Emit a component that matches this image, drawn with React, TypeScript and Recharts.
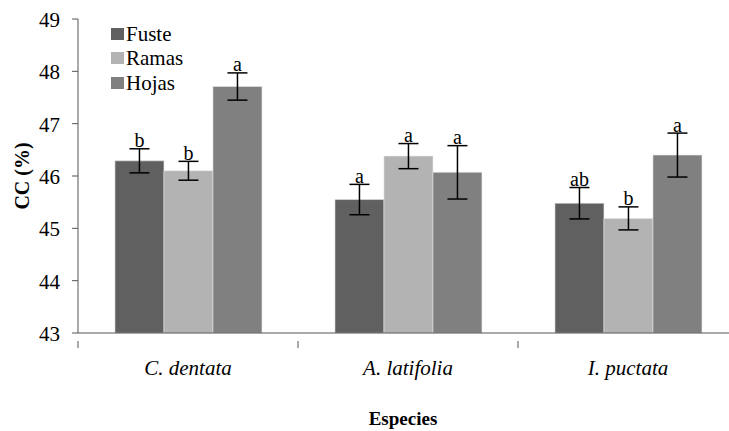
import React from 'react';
import { BarChart, Bar, XAxis, YAxis, ErrorBar, LabelList } from 'recharts';

const categories = ['C. dentata', 'A. latifolia', 'I. puctata'];

const fuste = [46.29, 45.55, 45.48];
const fusteErr = [0.23, 0.29, 0.3];
const fusteLetters = ['b', 'a', 'ab'];

const ramas = [46.1, 46.38, 45.19];
const ramasErr = [0.18, 0.24, 0.22];
const ramasLetters = ['b', 'a', 'b'];

const hojas = [47.71, 46.07, 46.4];
const hojasErr = [0.26, 0.51, 0.42];
const hojasLetters = ['a', 'a', 'a'];

const yTicks = [43, 44, 45, 46, 47, 48, 49];

const series = [
  { key: 'fuste', name: 'Fuste', color: '#606060', letters: fusteLetters, err: fusteErr, values: fuste },
  { key: 'ramas', name: 'Ramas', color: '#b3b3b3', letters: ramasLetters, err: ramasErr, values: ramas },
  { key: 'hojas', name: 'Hojas', color: '#808080', letters: hojasLetters, err: hojasErr, values: hojas },
];

const data = categories.map((c, i) => ({
  name: c,
  fuste: fuste[i],
  fusteErr: fusteErr[i],
  ramas: ramas[i],
  ramasErr: ramasErr[i],
  hojas: hojas[i],
  hojasErr: hojasErr[i],
}));

const FONT = "'Liberation Serif', 'Times New Roman', Times, serif";
const W = 740;
const H = 431;
const Y_MIN = 43;
const plotLeft = 78;
const plotRight = 738;
const band = (plotRight - plotLeft) / categories.length;

const XTick = (props: any) => {
  const { x, y, payload } = props;
  return (
    <g>
      <line x1={x - band / 2} y1={y} x2={x - band / 2} y2={y + 7} stroke="#555" />
      <text x={x} y={y + 34} textAnchor="middle" fontFamily={FONT} fontSize={21} fontStyle="italic" fill="#000">
        {payload.value}
      </text>
    </g>
  );
};

const YTick = (props: any) => {
  const { x, y, payload } = props;
  return (
    <text x={x} y={y} dy={8} textAnchor="end" fontFamily={FONT} fontSize={21} fill="#000">
      {payload.value}
    </text>
  );
};

const makeLetter = (letters: string[], errs: number[], value: number[]) => (props: any) => {
  const { x, y, width, height, index } = props;
  const ppu = height / (value[index] - Y_MIN);
  const top = y - errs[index] * ppu;
  return (
    <text x={x + width / 2} y={top - 1.5} textAnchor="middle" fontFamily={FONT} fontSize={20} fill="#000">
      {letters[index]}
    </text>
  );
};

export default function App() {
  return (
    <div style={{ position: 'absolute', left: 0, top: 0, width: 729, height: 431, overflow: 'hidden', background: '#fff', fontFamily: FONT }}>
      <BarChart
        width={W}
        height={H}
        data={data}
        margin={{ top: 19, right: W - plotRight, left: 0, bottom: H - 363 }}
        barCategoryGap="16.8%"
        barGap={0}
      >
        <XAxis
          dataKey="name"
          stroke="#555"
          tickLine={false}
          tick={<XTick />}
          interval={0}
          label={({ viewBox }: any) => (
            <text
              x={viewBox.x + viewBox.width / 2 - 5}
              y={425}
              textAnchor="middle"
              fontFamily={FONT}
              fontSize={19}
              fontWeight="bold"
              fill="#000"
            >
              Especies
            </text>
          )}
        />
        <YAxis
          width={plotLeft}
          domain={[43, 49]}
          ticks={yTicks}
          interval={0}
          stroke="#555"
          tickSize={6}
          tickMargin={12}
          tick={<YTick />}
          label={({ viewBox }: any) => (
            <text
              x={22}
              y={viewBox.y + viewBox.height / 2}
              transform={`rotate(-90, 22, ${viewBox.y + viewBox.height / 2})`}
              textAnchor="middle"
              dominantBaseline="central"
              fontFamily={FONT}
              fontSize={20}
              fontWeight="bold"
              fill="#000"
            >
              CC (%)
            </text>
          )}
        />
        {series.map((s) => (
          <Bar key={s.key} dataKey={s.key} name={s.name} fill={s.color} stroke="#e6e6e6" strokeWidth={0.6} isAnimationActive={false}>
            <ErrorBar dataKey={`${s.key}Err`} width={10} stroke="#000" strokeWidth={1.5} />
            <LabelList dataKey={s.key} content={makeLetter(s.letters, s.err, s.values)} />
          </Bar>
        ))}
      </BarChart>
      <div style={{ position: 'absolute', left: 111, top: 21.6, fontFamily: FONT, fontSize: 21, color: '#000', lineHeight: '24.5px' }}>
        {series.map((s) => (
          <div key={s.key} style={{ display: 'flex', alignItems: 'center' }}>
            <span style={{ display: 'inline-block', width: 13, height: 12, background: s.color, marginRight: 2 }} />
            <span>{s.name}</span>
          </div>
        ))}
      </div>
    </div>
  );
}
